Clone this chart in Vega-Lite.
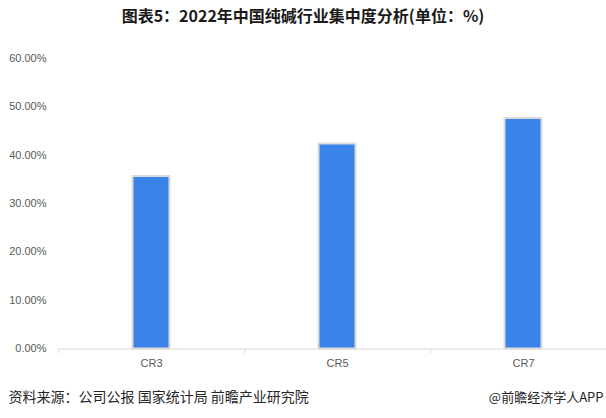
{
  "$schema": "https://vega.github.io/schema/vega-lite/v6.json",
  "width": 558,
  "height": 290,
  "autosize": {"type": "none"},
  "padding": {"left": 58, "top": 58.5, "right": 0, "bottom": 69.5},
  "background": "#ffffff",
  "config": {
    "view": {"stroke": null},
    "font": "Noto Sans CJK SC"
  },
  "title": {
    "text": "图表5：2022年中国纯碱行业集中度分析(单位：%)",
    "font": "Noto Sans CJK SC",
    "fontSize": 16,
    "fontWeight": "bold",
    "color": "#1a1a1a",
    "anchor": "middle",
    "dx": -34,
    "baseline": "middle",
    "offset": 20
  },
  "data": {
    "values": [
      {"category": "CR3", "value": 0.357},
      {"category": "CR5", "value": 0.424},
      {"category": "CR7", "value": 0.477}
    ]
  },
  "mark": {
    "type": "bar",
    "width": 37,
    "color": "#3a83e8",
    "stroke": "#dcdcdc",
    "strokeWidth": 2
  },
  "encoding": {
    "x": {
      "field": "category",
      "type": "nominal",
      "sort": null,
      "scale": {"paddingInner": 0, "paddingOuter": 0},
      "axis": {
        "title": "资料来源：公司公报 国家统计局 前瞻产业研究院",
        "titleFont": "Noto Sans CJK SC",
        "titleFontSize": 14,
        "titleFontWeight": "normal",
        "titleColor": "#262626",
        "titleAnchor": "start",
        "titleAlign": "left",
        "titleBaseline": "middle",
        "titleX": -50,
        "titleY": 48.5,
        "labelAngle": 0,
        "labelFont": "Liberation Sans",
        "labelFontSize": 11,
        "labelColor": "#595959",
        "labelPadding": 5,
        "domainColor": "#d9d9d9",
        "domainWidth": 1,
        "ticks": true,
        "tickBand": "extent",
        "tickSize": 4,
        "tickColor": "#d9d9d9"
      }
    },
    "y": {
      "field": "value",
      "type": "quantitative",
      "scale": {"domain": [0, 0.6], "nice": false},
      "axis": {
        "title": "@前瞻经济学人APP",
        "titleFont": "Noto Sans CJK SC",
        "titleFontSize": 13,
        "titleFontWeight": "normal",
        "titleColor": "#262626",
        "titleAngle": 0,
        "titleAlign": "right",
        "titleBaseline": "middle",
        "titleAnchor": null,
        "titleX": 545,
        "titleY": 338.5,
        "values": [0, 0.1, 0.2, 0.3, 0.4, 0.5, 0.6],
        "format": ".2%",
        "grid": false,
        "domain": false,
        "ticks": false,
        "labelFont": "Liberation Sans",
        "labelFontSize": 11,
        "labelColor": "#595959",
        "labelPadding": 12
      }
    }
  }
}
